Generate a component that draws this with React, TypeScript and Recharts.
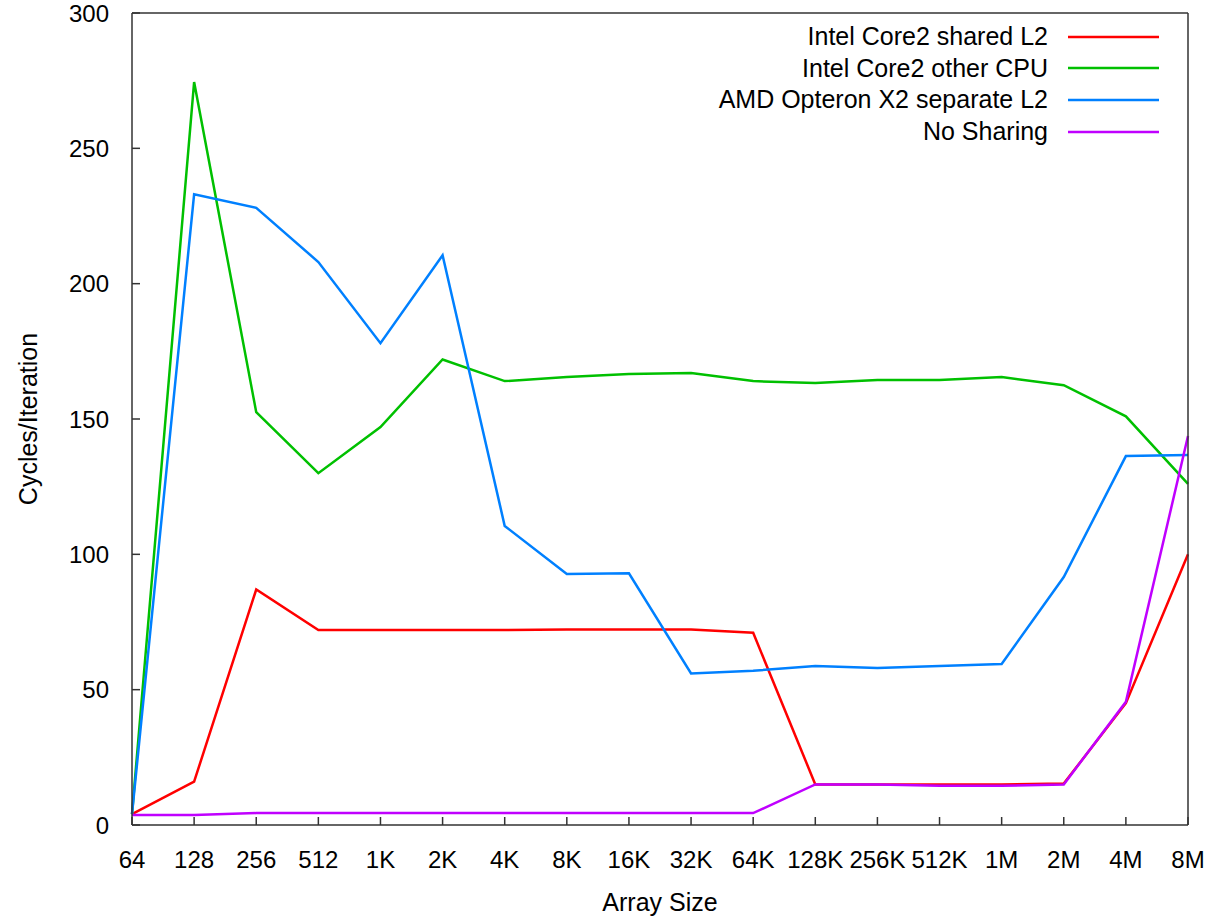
import React from 'react';
import { LineChart, Line, XAxis, YAxis, Legend } from 'recharts';

const sizes = ['64', '128', '256', '512', '1K', '2K', '4K', '8K', '16K', '32K', '64K', '128K', '256K', '512K', '1M', '2M', '4M', '8M'];
const sharedL2 = [4, 16, 87, 72, 72, 72, 72, 72.2, 72.2, 72.2, 71, 15, 15, 15, 15, 15.3, 45, 100];
const otherCpu = [4, 274.5, 152.5, 130, 147, 172, 164, 165.5, 166.6, 167, 164, 163.3, 164.4, 164.4, 165.5, 162.5, 151, 126];
const opteron = [4, 233, 228, 208, 178, 210.5, 110.5, 92.7, 93, 56, 57, 58.7, 58, 58.7, 59.5, 91.6, 136.3, 136.7];
const noSharing = [3.7, 3.7, 4.4, 4.4, 4.4, 4.4, 4.4, 4.4, 4.4, 4.4, 4.4, 15, 15, 14.5, 14.5, 15, 45.5, 143.7];
const yTicks = [0, 50, 100, 150, 200, 250, 300];
const legendOrder = ['sharedL2', 'otherCpu', 'opteron', 'noSharing'];

const data = sizes.map((size, i) => ({
  size,
  sharedL2: sharedL2[i],
  otherCpu: otherCpu[i],
  opteron: opteron[i],
  noSharing: noSharing[i],
}));

const FONT = '"Liberation Sans", Arial, sans-serif';
const AXIS = '#333';

const renderLegend = (props: any) => {
  const payload = [...(props.payload || [])].sort(
    (a: any, b: any) => legendOrder.indexOf(a.dataKey) - legendOrder.indexOf(b.dataKey)
  );
  return (
    <div style={{ display: 'flex', flexDirection: 'column', alignItems: 'flex-end', fontFamily: FONT }}>
      {payload.map((entry: any) => (
        <div key={entry.value} style={{ display: 'flex', alignItems: 'center', height: 31.6 }}>
          <span style={{ fontSize: 25, color: '#000', lineHeight: '31.6px' }}>{entry.value}</span>
          <svg width={91} height={4} style={{ marginLeft: 20 }}>
            <line x1={0} y1={2} x2={91} y2={2} stroke={entry.color} strokeWidth={2.5} />
          </svg>
        </div>
      ))}
    </div>
  );
};

const YTitle = (props: any) => {
  const { viewBox } = props;
  const cy = viewBox.y + viewBox.height / 2;
  return (
    <text x={37} y={cy} transform={`rotate(-90 37 ${cy})`} textAnchor="middle" fontSize={25} fontFamily={FONT} fill="#000">
      Cycles/Iteration
    </text>
  );
};

export default function App() {
  return (
    <div style={{ position: 'absolute', left: 0, top: 0, background: '#fff' }}>
      <LineChart width={1215} height={916} data={data} margin={{ top: 12, right: 26, left: 0, bottom: 0 }}>
        <XAxis
          dataKey="size"
          height={91}
          interval={0}
          tickSize={-8}
          tickMargin={34}
          tick={{ fontSize: 24, fill: '#000', fontFamily: FONT }}
          axisLine={{ stroke: AXIS, strokeWidth: 1.5 }}
          tickLine={{ stroke: AXIS, strokeWidth: 1.5 }}
          label={{ value: 'Array Size', position: 'insideBottom', offset: 5, style: { fontSize: 25, fill: '#000', fontFamily: FONT } }}
        />
        <XAxis
          xAxisId="top"
          orientation="top"
          dataKey="size"
          height={1}
          interval={0}
          tickSize={-8}
          tick={false}
          axisLine={{ stroke: AXIS, strokeWidth: 1.5 }}
          tickLine={{ stroke: AXIS, strokeWidth: 1.5 }}
        />
        <YAxis
          width={132}
          domain={[0, 300]}
          ticks={yTicks}
          tickSize={-8}
          tickMargin={31}
          tick={{ fontSize: 24, fill: '#000', fontFamily: FONT }}
          axisLine={{ stroke: AXIS, strokeWidth: 1.5 }}
          tickLine={{ stroke: AXIS, strokeWidth: 1.5 }}
          label={<YTitle />}
        />
        <YAxis
          yAxisId="right"
          orientation="right"
          width={1}
          domain={[0, 300]}
          ticks={yTicks}
          tickSize={-8}
          tick={false}
          axisLine={{ stroke: AXIS, strokeWidth: 1.5 }}
          tickLine={{ stroke: AXIS, strokeWidth: 1.5 }}
        />
        <Legend
          layout="vertical"
          align="center"
          verticalAlign="middle"
          content={renderLegend}
          wrapperStyle={{ position: 'absolute', top: 21, right: 56, left: 'auto', width: 'auto', height: 'auto' }}
        />
        <Line type="linear" dataKey="sharedL2" name="Intel Core2 shared L2" stroke="#ff0000" strokeWidth={2.5} dot={false} isAnimationActive={false} />
        <Line type="linear" dataKey="otherCpu" name="Intel Core2 other CPU" stroke="#00c000" strokeWidth={2.5} dot={false} isAnimationActive={false} />
        <Line type="linear" dataKey="opteron" name="AMD Opteron X2 separate L2" stroke="#0080ff" strokeWidth={2.5} dot={false} isAnimationActive={false} />
        <Line type="linear" dataKey="noSharing" name="No Sharing" stroke="#c000ff" strokeWidth={2.5} dot={false} isAnimationActive={false} />
      </LineChart>
    </div>
  );
}
